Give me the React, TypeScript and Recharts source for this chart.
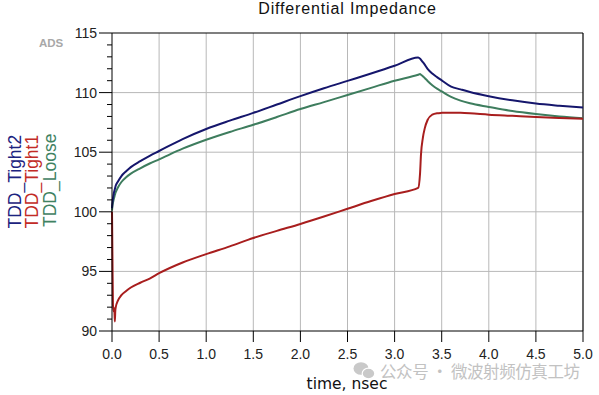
import React from 'react';
import { LineChart, Line, XAxis, YAxis, CartesianGrid, ReferenceLine } from 'recharts';

// time, nsec
const time = [0, 0.005, 0.01, 0.02, 0.025, 0.03, 0.035, 0.04, 0.06, 0.1, 0.15, 0.2, 0.3, 0.4, 0.5, 0.75, 1.0, 1.25, 1.5, 1.75, 2.0, 2.25, 2.5, 2.75, 3.0, 3.25, 3.27, 3.28, 3.3, 3.32, 3.35, 3.4, 3.45, 3.5, 3.6, 3.7, 3.8, 4.0, 4.25, 4.5, 4.75, 5.0];

const tddTight2 = [100.3, 100.8, 101.1, 101.6, 101.75, 101.9, 102.05, 102.2, 102.5, 103.0, 103.4, 103.75, 104.25, 104.7, 105.1, 106.1, 106.95, 107.65, 108.3, 109.0, 109.7, 110.36, 110.98, 111.6, 112.25, 112.95, 112.85, 112.75, 112.55, 112.34, 112.0, 111.6, 111.3, 111.03, 110.5, 110.27, 110.05, 109.7, 109.35, 109.08, 108.9, 108.75];

const tddTight1 = [100.0, 96.0, 92.2, 91.6, 91.9, 90.8, 91.7, 92.0, 92.5, 93.0, 93.35, 93.65, 94.05, 94.4, 94.85, 95.75, 96.45, 97.1, 97.8, 98.4, 98.98, 99.6, 100.25, 100.9, 101.5, 102.0, 103.2, 104.8, 106.2, 107.0, 107.7, 108.15, 108.27, 108.3, 108.32, 108.3, 108.26, 108.15, 108.05, 107.95, 107.87, 107.8];

const tddLoose = [100.1, 100.5, 100.75, 101.1, 101.25, 101.4, 101.55, 101.65, 102.0, 102.5, 102.9, 103.2, 103.65, 104.05, 104.4, 105.3, 106.05, 106.7, 107.3, 107.95, 108.62, 109.2, 109.8, 110.4, 111.0, 111.5, 111.55, 111.5, 111.38, 111.22, 110.98, 110.62, 110.33, 110.1, 109.64, 109.33, 109.1, 108.8, 108.45, 108.2, 108.0, 107.85];

const xTicks = [0, 0.5, 1, 1.5, 2, 2.5, 3, 3.5, 4, 4.5, 5];
const xGrid = [0.5, 1, 1.5, 2, 2.5, 3, 3.5, 4, 4.5];
const yMajorTicks = [90, 95, 100, 105, 110, 115];
const yGrid = [95, 100, 105, 110];
const yAllTicks = [90, 91, 92, 93, 94, 95, 96, 97, 98, 99, 100, 101, 102, 103, 104, 105, 106, 107, 108, 109, 110, 111, 112, 113, 114, 115];

const seriesNames = ['TDD_Tight2', 'TDD_Tight1', 'TDD_Loose'];
const titleText = 'Differential Impedance';
const xLabelText = 'time, nsec';
const watermarkText = '公众号 · 微波射频仿真工坊';

const NAVY = '#15166c';
const RED = '#a81e1e';
const GREEN = '#3e7d5e';

const data = time.map((t, i) => ({
  t,
  tight2: tddTight2[i],
  tight1: tddTight1[i],
  loose: tddLoose[i],
}));

const FONT = 'Liberation Sans, Arial, sans-serif';

// Long tick + label at major values, short tick at minor values
const YTick = (props: any) => {
  const { x, y, payload } = props;
  const v = payload.value;
  const major = yMajorTicks.includes(v);
  return (
    <g>
      <line x1={x - (major ? 13 : 5)} x2={x} y1={y} y2={y} stroke="#000" strokeWidth={1} />
      {major && (
        <text x={x - 15} y={y} dy="0.36em" textAnchor="end" fontSize={14} fontFamily={FONT} fill="#222">
          {v}
        </text>
      )}
    </g>
  );
};

export default function App() {
  return (
    <div style={{ position: 'absolute', left: 0, top: 0, width: 599, height: 395, background: '#fff' }}>
      <LineChart width={599} height={395} data={data} margin={{ top: 33, right: 16, bottom: 0, left: 0 }}>
        <CartesianGrid stroke="#b8b8b8" horizontalValues={yGrid} verticalValues={xGrid} />
        <XAxis
          dataKey="t"
          type="number"
          domain={[0, 5]}
          ticks={xTicks}
          interval={0}
          tickFormatter={(v: number) => v.toFixed(1)}
          height={64}
          tickSize={11}
          tickMargin={7}
          stroke="#000"
          tick={{ fill: '#222', fontSize: 14, fontFamily: FONT }}
        />
        <YAxis
          type="number"
          domain={[90, 115]}
          ticks={yAllTicks}
          interval={0}
          width={112}
          tickSize={0}
          tickMargin={0}
          tickLine={false}
          stroke="#000"
          tick={(p: any) => <YTick {...p} />}
        />
        <ReferenceLine y={115} stroke="#000" strokeWidth={1.2} />
        <ReferenceLine x={5} stroke="#000" strokeWidth={1.2} />
        <Line type="monotone" dataKey="loose" stroke={GREEN} strokeWidth={2} dot={false} isAnimationActive={false} />
        <Line type="monotone" dataKey="tight1" stroke={RED} strokeWidth={2} dot={false} isAnimationActive={false} />
        <Line type="monotone" dataKey="tight2" stroke={NAVY} strokeWidth={2} dot={false} isAnimationActive={false} />
      </LineChart>
      <svg width={599} height={395} style={{ position: 'absolute', left: 0, top: 0, pointerEvents: 'none' }}>
        <text x={347.5} y={14} textAnchor="middle" fontSize={16} letterSpacing={0.85} fontFamily={FONT} fill="#111">
          {titleText}
        </text>
        <text x={39} y={47} fontSize={11.5} fontWeight="bold" fontFamily={FONT} fill="#a8a8a8">
          ADS
        </text>
        <text transform="translate(20.5,228.5) rotate(-90)" fontSize={17.5} fontFamily={FONT} fill="#1c2380">
          {seriesNames[0]}
        </text>
        <text transform="translate(38,228.5) rotate(-90)" fontSize={17.5} fontFamily={FONT} fill="#c22b26">
          {seriesNames[1]}
        </text>
        <text transform="translate(55.5,227) rotate(-90)" fontSize={17.5} fontFamily={FONT} fill="#3f8262">
          {seriesNames[2]}
        </text>
        <text x={347} y={389} textAnchor="middle" fontSize={15.5} fontFamily="DejaVu Sans, Verdana, sans-serif" fill="#111">
          {xLabelText}
        </text>
        <ellipse cx={361} cy={368.5} rx={7.5} ry={6.3} fill="#c9c9c9" />
        <ellipse cx={368.5} cy={373.5} rx={6.3} ry={5.3} fill="#c9c9c9" stroke="#fff" strokeWidth={1.2} />
        <text x={380} y={378} fontSize={16.5} textLength={200} lengthAdjust="spacing" fontFamily="Noto Sans CJK SC, sans-serif" fill="#c2c2c2">
          {watermarkText}
        </text>
      </svg>
    </div>
  );
}
